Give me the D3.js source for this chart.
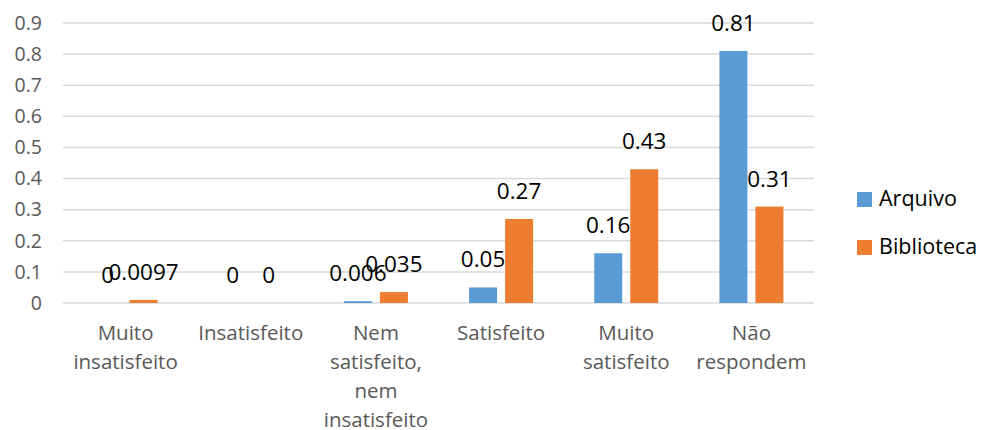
<!DOCTYPE html>
<html>
<head>
<meta charset="utf-8">
<script src="https://cdn.jsdelivr.net/npm/d3@7"></script>
<style>
  body { margin: 0; background: #fff; }
  svg { display: block; font-family: "Open Sans", sans-serif; }
</style>
</head>
<body>
<svg width="986" height="430"></svg>
<script>
const categories = ["Muito insatisfeito", "Insatisfeito", "Nem satisfeito, nem insatisfeito", "Satisfeito", "Muito satisfeito", "Não respondem"];
const categoryLines = [
    ["Muito", "insatisfeito"],
    ["Insatisfeito"],
    ["Nem", "satisfeito,", "nem", "insatisfeito"],
    ["Satisfeito"],
    ["Muito", "satisfeito"],
    ["Não", "respondem"]
];
const seriesNames = ["Arquivo", "Biblioteca"];
const arquivo = [0, 0, 0.006, 0.05, 0.16, 0.81];
const biblioteca = [0.0097, 0, 0.035, 0.27, 0.43, 0.31];
const yTicks = [0, 0.1, 0.2, 0.3, 0.4, 0.5, 0.6, 0.7, 0.8, 0.9];
const colors = ["#5b9bd5", "#ed7d31"];

const svg = d3.select("svg");

const x0 = d3.scaleBand()
    .domain(categories)
    .range([63, 814])
    .padding(0);

const cw = x0.bandwidth();
const x1 = d3.scaleBand()
    .domain(seriesNames)
    .range([cw / 2 - 32, cw / 2 + 32])
    .paddingInner(8 / 36)
    .paddingOuter(0);

const y = d3.scaleLinear()
    .domain([0, 0.9])
    .range([303, 23]);

// gridlines
svg.append("g")
    .selectAll("line")
    .data(yTicks)
    .enter()
    .append("line")
    .attr("x1", 63)
    .attr("x2", 814)
    .attr("y1", d => y(d))
    .attr("y2", d => y(d))
    .attr("stroke", "#d9d9d9")
    .attr("stroke-width", 1.5);

// y axis labels
const yAxis = d3.axisLeft(y)
    .tickValues(yTicks)
    .tickSize(0)
    .tickPadding(0)
    .tickFormat(d => d === 0 ? "0" : d3.format(".1f")(d));

svg.append("g")
    .attr("transform", "translate(42,0)")
    .call(yAxis)
    .call(g => g.select(".domain").remove())
    .selectAll("text")
    .attr("font-family", "Open Sans")
    .attr("font-size", 19.5)
    .attr("fill", "#595959");

// bars
const rows = categories.map((c, i) => ({
    category: c,
    values: [
        { series: seriesNames[0], value: arquivo[i], color: colors[0] },
        { series: seriesNames[1], value: biblioteca[i], color: colors[1] }
    ]
}));

const groups = svg.append("g")
    .selectAll("g")
    .data(rows)
    .enter()
    .append("g")
    .attr("transform", d => `translate(${x0(d.category)},0)`);

groups.selectAll("rect")
    .data(d => d.values)
    .enter()
    .append("rect")
    .attr("x", d => x1(d.series))
    .attr("width", x1.bandwidth())
    .attr("y", d => y(d.value))
    .attr("height", d => y(0) - y(d.value))
    .attr("fill", d => d.color);

// value labels
groups.selectAll("text")
    .data(d => d.values)
    .enter()
    .append("text")
    .attr("x", d => x1(d.series) + x1.bandwidth() / 2)
    .attr("y", d => y(d.value) - 20)
    .attr("text-anchor", "middle")
    .attr("font-size", 22.5)
    .attr("fill", "#000")
    .text(d => String(d.value));

// category labels
const catLabels = svg.append("g")
    .selectAll("text")
    .data(categories)
    .enter()
    .append("text")
    .attr("text-anchor", "middle")
    .attr("font-size", 20.5)
    .attr("fill", "#595959");

catLabels.each(function(d, i) {
    const t = d3.select(this);
    categoryLines[i].forEach((line, j) => {
        t.append("tspan")
            .attr("x", x0(d) + cw / 2)
            .attr("y", 340 + j * 29)
            .text(line);
    });
});

// legend
const legend = svg.append("g")
    .selectAll("g")
    .data(seriesNames)
    .enter()
    .append("g")
    .attr("transform", (d, i) => `translate(857,${192 + i * 48})`);

legend.append("rect")
    .attr("width", 15)
    .attr("height", 15)
    .attr("fill", (d, i) => colors[i]);

legend.append("text")
    .attr("x", 22)
    .attr("y", 14)
    .attr("font-size", 21.5)
    .attr("fill", "#000")
    .text(d => d);
</script>
</body>
</html>
